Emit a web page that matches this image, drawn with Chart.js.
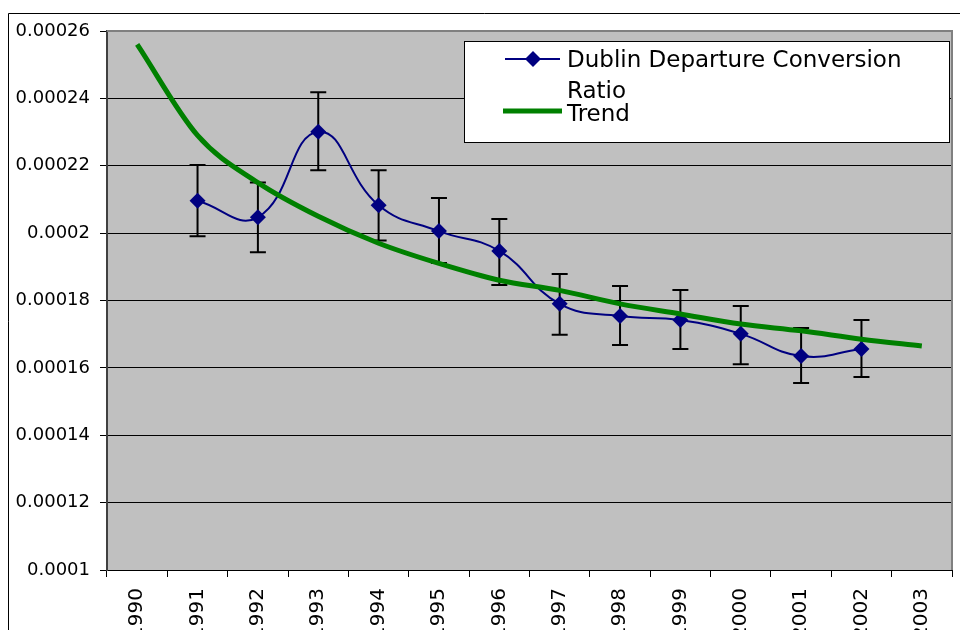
<!DOCTYPE html>
<html>
<head>
<meta charset="utf-8">
<title>Dublin Departure Conversion Ratio</title>
<script src="https://cdn.jsdelivr.net/npm/chart.js@4.4.0/dist/chart.umd.min.js"></script>
<style>
    html, body { margin: 0; padding: 0; background: #fff; }
    #wrap { width: 960px; height: 630px; }
</style>
</head>
<body>
<div id="wrap"><canvas id="ratioChart" width="960" height="630"></canvas></div>
<script>
// values
const years = ['1990', '1991', '1992', '1993', '1994', '1995', '1996',
               '1997', '1998', '1999', '2000', '2001', '2002', '2003'];
const ratio = [null, 0.0002096, 0.0002047, 0.0002301, 0.0002083, 0.0002006, 0.0001947,
               0.000179, 0.0001754, 0.0001742, 0.0001701, 0.0001635, 0.0001656, null];
const errorHigh = [null, 0.0002202, 0.000215, 0.0002418, 0.0002187, 0.0002104, 0.0002042,
                   0.0001879, 0.0001843, 0.0001831, 0.0001784, 0.0001718, 0.0001742, null];
const errorLow = [null, 0.0001991, 0.0001943, 0.0002187, 0.0001978, 0.0001911, 0.0001846,
                  0.0001698, 0.0001668, 0.0001656, 0.0001611, 0.0001555, 0.0001573, null];
const trend = [0.000256, 0.000229, 0.000215, 0.000205, 0.000197, 0.000191, 0.000186,
               0.000183, 0.000179, 0.000176, 0.000173, 0.000171, 0.0001685, 0.0001665];
const yTickValues = [0.0001, 0.00012, 0.00014, 0.00016, 0.00018, 0.0002, 0.00022, 0.00024, 0.00026];

const seriesName = ['Dublin Departure Conversion', 'Ratio'];
const trendName = 'Trend';

document.addEventListener('DOMContentLoaded', function() {
    const FONT = '"DejaVu Sans", "Liberation Sans", Arial, sans-serif';

    // white page, outer frame and grey plot area
    const background = {
        id: 'background',
        beforeDraw(chart) {
            const ctx = chart.ctx;
            const a = chart.chartArea;
            ctx.save();
            ctx.fillStyle = '#fff';
            ctx.fillRect(0, 0, chart.width, chart.height);
            ctx.strokeStyle = '#000';
            ctx.lineWidth = 1;
            ctx.beginPath();
            ctx.moveTo(8.5, chart.height);
            ctx.lineTo(8.5, 13.5);
            ctx.lineTo(chart.width, 13.5);
            ctx.stroke();
            ctx.fillStyle = '#c0c0c0';
            ctx.fillRect(a.left, a.top, a.right - a.left, a.bottom - a.top);
            ctx.restore();
        }
    };

    // grey border on top / right of the plot area, then the error bars
    const errorBars = {
        id: 'errorBars',
        beforeDatasetsDraw(chart) {
            const ctx = chart.ctx;
            const a = chart.chartArea;
            const x = chart.scales.x;
            const y = chart.scales.y;
            ctx.save();
            ctx.strokeStyle = '#808080';
            ctx.lineWidth = 2;
            ctx.beginPath();
            ctx.moveTo(a.left, a.top);
            ctx.lineTo(a.right, a.top);
            ctx.lineTo(a.right, a.bottom);
            ctx.stroke();

            ctx.strokeStyle = '#000';
            ctx.lineWidth = 2;
            ratio.forEach((v, i) => {
                if (v === null) return;
                const px = x.getPixelForValue(i);
                const top = y.getPixelForValue(errorHigh[i]);
                const bot = y.getPixelForValue(errorLow[i]);
                ctx.beginPath();
                ctx.moveTo(px, top);
                ctx.lineTo(px, bot);
                ctx.moveTo(px - 8, top);
                ctx.lineTo(px + 8, top);
                ctx.moveTo(px - 8, bot);
                ctx.lineTo(px + 8, bot);
                ctx.stroke();
            });
            ctx.restore();
        }
    };

    // legend box sitting inside the plot area
    const legendBox = {
        id: 'legendBox',
        afterDraw(chart) {
            const ctx = chart.ctx;
            ctx.save();
            ctx.fillStyle = '#fff';
            ctx.fillRect(464, 41, 485, 101);
            ctx.strokeStyle = '#000';
            ctx.lineWidth = 1;
            ctx.strokeRect(464.5, 41.5, 485, 101);

            // series symbol
            ctx.strokeStyle = '#000080';
            ctx.lineWidth = 2;
            ctx.beginPath();
            ctx.moveTo(505, 59);
            ctx.lineTo(560, 59);
            ctx.stroke();
            ctx.fillStyle = '#000080';
            ctx.beginPath();
            ctx.moveTo(533, 51);
            ctx.lineTo(541, 59);
            ctx.lineTo(533, 67);
            ctx.lineTo(525, 59);
            ctx.closePath();
            ctx.fill();

            // trend symbol
            ctx.strokeStyle = '#008000';
            ctx.lineWidth = 5;
            ctx.beginPath();
            ctx.moveTo(503, 111);
            ctx.lineTo(562, 111);
            ctx.stroke();

            ctx.fillStyle = '#000';
            ctx.font = '23px ' + FONT;
            ctx.textAlign = 'left';
            ctx.textBaseline = 'alphabetic';
            ctx.fillText(seriesName[0], 567, 67);
            ctx.fillText(seriesName[1], 567, 98);
            ctx.fillText(trendName, 567, 121);
            ctx.restore();
        }
    };

    const ctx = document.getElementById('ratioChart').getContext('2d');
    new Chart(ctx, {
        type: 'line',
        data: {
            labels: years,
            datasets: [{
                label: trendName,
                data: trend,
                borderColor: '#008000',
                borderWidth: 5,
                pointRadius: 0,
                cubicInterpolationMode: 'monotone',
                fill: false
            }, {
                label: seriesName.join(' '),
                data: ratio,
                borderColor: '#000080',
                borderWidth: 2,
                backgroundColor: '#000080',
                pointStyle: 'rectRot',
                pointRadius: 8,
                pointHoverRadius: 8,
                pointBorderWidth: 0,
                pointBackgroundColor: '#000080',
                tension: 0.45,
                fill: false
            }]
        },
        options: {
            responsive: false,
            animation: false,
            events: [],
            layout: { padding: { top: 31, right: 7, left: 0, bottom: 0 } },
            plugins: {
                legend: { display: false },
                tooltip: { enabled: false }
            },
            scales: {
                x: {
                    offset: true,
                    afterFit(scale) { scale.height = 60; },
                    grid: {
                        display: true,
                        drawOnChartArea: false,
                        drawTicks: true,
                        tickLength: 7,
                        color: '#000',
                        offset: true
                    },
                    border: { display: true, color: '#000', width: 1 },
                    ticks: {
                        autoSkip: false,
                        maxRotation: 90,
                        minRotation: 90,
                        padding: 11,
                        color: '#000',
                        font: { family: FONT, size: 20 }
                    }
                },
                y: {
                    min: yTickValues[0],
                    max: yTickValues[yTickValues.length - 1],
                    afterFit(scale) { scale.width = 107; },
                    afterBuildTicks(scale) {
                        scale.ticks = yTickValues.map(v => ({ value: v }));
                    },
                    grid: {
                        color: '#000',
                        lineWidth: 1,
                        drawTicks: true,
                        tickLength: 7
                    },
                    border: { display: true, color: '#404040', width: 2 },
                    ticks: {
                        padding: 10,
                        color: '#000',
                        font: { family: FONT, size: 18 },
                        callback: function(value) {
                            return parseFloat(Number(value).toFixed(5)).toString();
                        }
                    }
                }
            }
        },
        plugins: [background, errorBars, legendBox]
    });
});
</script>
</body>
</html>
